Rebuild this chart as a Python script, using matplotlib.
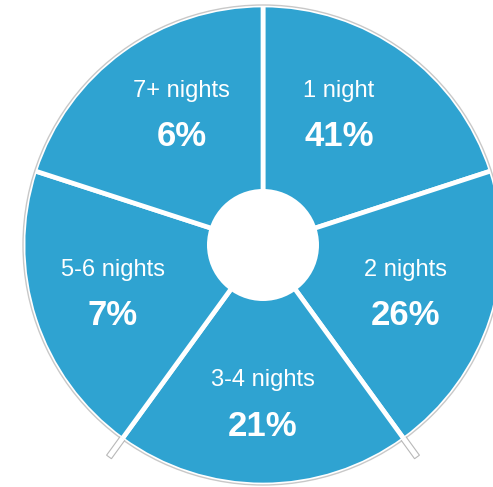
import numpy as np
import matplotlib.pyplot as plt
from matplotlib.patches import Circle, Polygon

plt.rcParams['font.family'] = ['Liberation Sans', 'DejaVu Sans']

# clockwise from the top
labels = ['1 night', '2 nights', '3-4 nights', '5-6 nights', '7+ nights']
shares = [41, 26, 21, 7, 6]
slice_size = [1, 1, 1, 1, 1]   # the chart draws every slice the same size

# hand nudges of each text block (px right, px up), layout only
nudge = [(-15, 6), (-5, 0), (0, -3), (-3, 0), (10, 6)]

blue = '#2fa3d1'
cx, cy, R = 263, 242, 240

fig = plt.figure(figsize=(4.93, 4.87), dpi=100)
ax = fig.add_axes([0, 0, 1, 1])

wedges, _ = ax.pie(slice_size, startangle=90, counterclock=False,
                   radius=R, center=(cx, cy), colors=[blue] * len(labels),
                   wedgeprops=dict(edgecolor='white', linewidth=3.4))
ax.set_xlim(0, 493)
ax.set_ylim(0, 487)
ax.set_aspect('equal')
ax.axis('off')

# thin grey rim
ax.add_patch(Circle((cx, cy), R, fill=False, edgecolor='#c8c8c8', lw=1.0, zorder=3))
# white hole
ax.add_patch(Circle((cx, cy), 56, facecolor='white', edgecolor='none', zorder=4))

# little stubs that poke out of the two lower separators
for w in wedges:
    a = np.deg2rad(w.theta1)
    if np.sin(a) < -0.5:
        d = np.array([np.cos(a), np.sin(a)])
        n = np.array([-d[1], d[0]])
        c = np.array([cx, cy])
        pts = [c + d * 239 + n * 3, c + d * 262 + n * 3,
               c + d * 262 - n * 3, c + d * 239 - n * 3]
        ax.add_patch(Polygon(pts, closed=False, facecolor='white',
                             edgecolor='#b8b8b8', lw=0.8, zorder=5))

for w, lab, pct, (nx, ny) in zip(wedges, labels, shares, nudge):
    mid = np.deg2rad((w.theta1 + w.theta2) / 2)
    x = cx + 155 * np.cos(mid) + nx
    y = cy + 155 * np.sin(mid) + ny
    ax.text(x, y + 23, lab, color='white', fontsize=17,
            ha='center', va='center', zorder=6)
    ax.text(x, y - 23, f'{pct}%', color='white', fontsize=25,
            fontweight='bold', ha='center', va='center', zorder=6)

fig.savefig('out.png', dpi=100)
